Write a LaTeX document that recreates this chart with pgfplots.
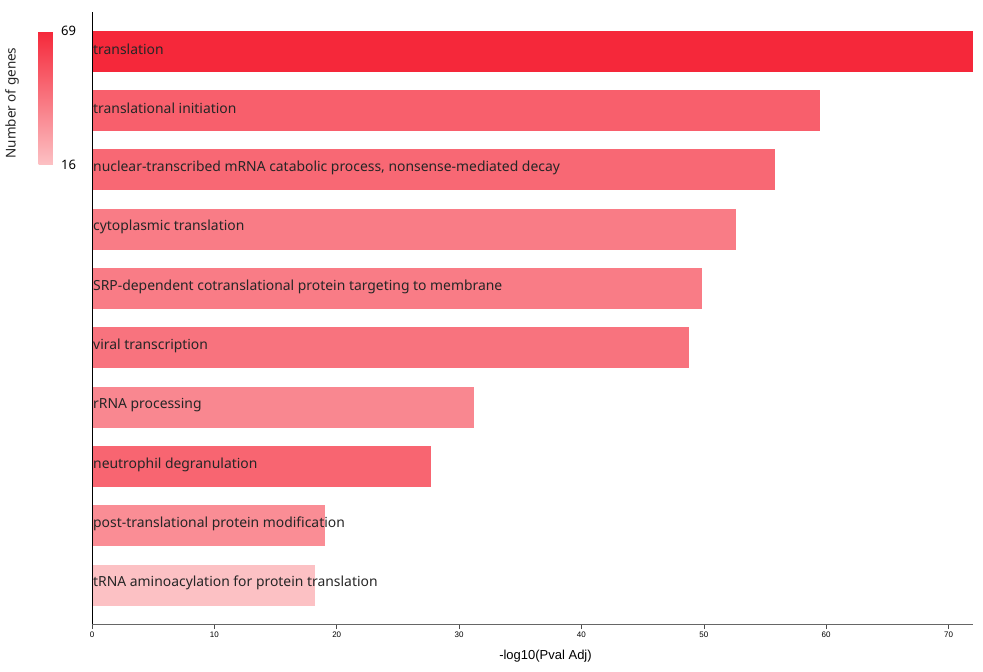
\documentclass[border=0pt]{standalone}
\usepackage{pgfplots}
\pgfplotsset{compat=1.18}
\usepackage{fontspec}
\setmainfont{Noto Sans}
\newfontfamily\tickfont{Liberation Sans}
\definecolor{gLow}{RGB}{252,193,196}
\definecolor{gHigh}{RGB}{245,40,58}
\begin{document}
\begin{tikzpicture}
\path[use as bounding box] (-92pt,-48pt) rectangle (891pt,624pt);
\begin{axis}[
  at={(0,0)}, anchor=south west,
  scale only axis, width=881pt, height=612pt,
  xmin=0, xmax=72.0,
  ymin=-0.66, ymax=9.655, y dir=reverse,
  axis x line=bottom, axis y line=left,
  axis line style={-, line width=0.8pt},
  x axis line style={draw=black!60},
  xtick={0,10,...,70},
  xtick style={draw=black!70, line width=0.6pt},
  major tick length=5pt,
  tick align=outside,
  xticklabel style={font=\tickfont\fontsize{8}{9}\selectfont, yshift=1pt},
  /pgf/number format/assume math mode=true,
  xlabel={-log10(Pval Adj)},
  xlabel style={font=\tickfont\fontsize{13}{15}\selectfont, yshift=-6pt, xshift=13pt},
  ytick={0,...,9},
  yticklabels={translation, translational initiation, {nuclear-transcribed mRNA catabolic process, nonsense-mediated decay}, cytoplasmic translation, SRP-dependent cotranslational protein targeting to membrane, viral transcription, rRNA processing, neutrophil degranulation, post-translational protein modification, tRNA aminoacylation for protein translation},
  ytick style={draw=none},
  yticklabel style={anchor=west, inner sep=0pt, xshift=6pt, yshift=2pt, font=\fontsize{13.9}{16}\selectfont, text=black!85},
  axis on top,
  colormap={genes}{rgb255=(252,193,196) rgb255=(245,40,58)},
  point meta min=16, point meta max=69,
  colorbar,
  colorbar style={
    at={(parent axis.north west)}, anchor=north west, xshift=-62pt, yshift=-19pt,
    width=17pt, height=134pt,
    ytick={16,69},
    yticklabel pos=right,
    major tick length=0pt,
    axis line style={draw=none},
    yticklabel style={font=\fontsize{13}{15}\selectfont, /pgf/number format/assume math mode=true, xshift=2pt},
  },
  every axis plot/.append style={xbar, bar shift=0pt, bar width=41pt, draw=none},
]
% value, gene count (colour = gHigh mixed by (g-16)/53)
\addplot[fill=gHigh!100!gLow] coordinates {(72.0,0)};   % 69
\addplot[fill=gHigh!64!gLow]  coordinates {(59.5,1)};   % 50
\addplot[fill=gHigh!58!gLow]  coordinates {(55.85,2)};  % 47
\addplot[fill=gHigh!45!gLow]  coordinates {(52.66,3)};  % 40
\addplot[fill=gHigh!45!gLow]  coordinates {(49.88,4)};  % 40
\addplot[fill=gHigh!51!gLow]  coordinates {(48.81,5)};  % 43
\addplot[fill=gHigh!38!gLow]  coordinates {(31.23,6)};  % 36
\addplot[fill=gHigh!60!gLow]  coordinates {(27.72,7)};  % 48
\addplot[fill=gHigh!34!gLow]  coordinates {(19.05,8)};  % 34
\addplot[fill=gHigh!0!gLow]   coordinates {(18.23,9)};  % 16
\end{axis}
\node[rotate=90, font=\fontsize{13.5}{15}\selectfont, text=black!85] at (-80pt,521pt) {Number of genes};
\end{tikzpicture}
\end{document}
